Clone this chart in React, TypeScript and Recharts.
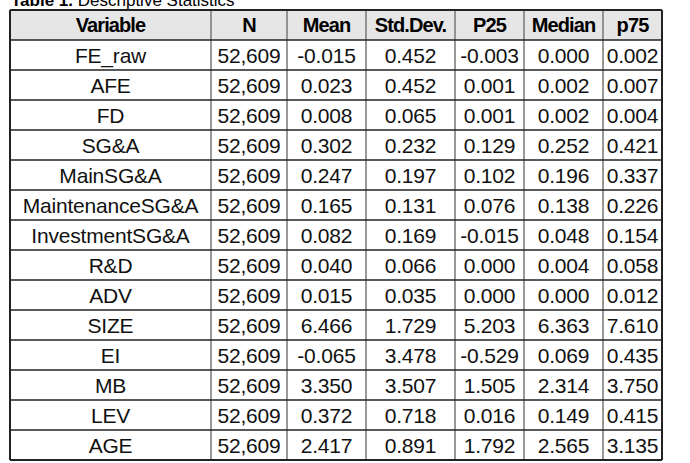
import React from 'react';
import { ScatterChart, Scatter, XAxis, YAxis, ReferenceLine, ReferenceArea } from 'recharts';

const columns = ['Variable', 'N', 'Mean', 'Std.Dev.', 'P25', 'Median', 'p75'];
const variables = ['FE_raw', 'AFE', 'FD', 'SG&A', 'MainSG&A', 'MaintenanceSG&A', 'InvestmentSG&A', 'R&D', 'ADV', 'SIZE', 'EI', 'MB', 'LEV', 'AGE'];
const nObs = [52609, 52609, 52609, 52609, 52609, 52609, 52609, 52609, 52609, 52609, 52609, 52609, 52609, 52609];
const means = [-0.015, 0.023, 0.008, 0.302, 0.247, 0.165, 0.082, 0.040, 0.015, 6.466, -0.065, 3.350, 0.372, 2.417];
const stdDevs = [0.452, 0.452, 0.065, 0.232, 0.197, 0.131, 0.169, 0.066, 0.035, 1.729, 3.478, 3.507, 0.718, 0.891];
const p25s = [-0.003, 0.001, 0.001, 0.129, 0.102, 0.076, -0.015, 0.000, 0.000, 5.203, -0.529, 1.505, 0.016, 1.792];
const medians = [0.000, 0.002, 0.002, 0.252, 0.196, 0.138, 0.048, 0.004, 0.000, 6.363, 0.069, 2.314, 0.149, 2.565];
const p75s = [0.002, 0.007, 0.004, 0.421, 0.337, 0.226, 0.154, 0.058, 0.012, 7.610, 0.435, 3.750, 0.415, 3.135];

// layout: column edges on the x scale (px units), rows are index units on y
const colEdges = [10, 211, 287, 366, 455, 524, 603, 662];
const W = 690;
const H = 463;
const FONT = '"Liberation Sans", Arial, sans-serif';

const cellText = [
  variables,
  nObs.map((v) => v.toLocaleString('en-US')),
  means.map((v) => v.toFixed(3)),
  stdDevs.map((v) => v.toFixed(3)),
  p25s.map((v) => v.toFixed(3)),
  medians.map((v) => v.toFixed(3)),
  p75s.map((v) => v.toFixed(3)),
];

const nRows = variables.length + 1;
const center = (c: number) => (colEdges[c] + colEdges[c + 1]) / 2;

const headerData = columns.map((label, c) => ({ x: center(c), y: 0.5, label }));
const bodyData = cellText.map((col, c) => col.map((label, r) => ({ x: center(c), y: r + 1.5, label })));

const HeaderCell = (props: any) => (
  <text x={props.cx} y={props.cy} textAnchor="middle" dominantBaseline="central" fontFamily={FONT} fontWeight="bold" fontSize={20} letterSpacing={-0.9} fill="#000">
    {props.payload.label}
  </text>
);

const BodyCell = (props: any) => (
  <text x={props.cx} y={props.cy} textAnchor="middle" dominantBaseline="central" fontFamily={FONT} fontSize={21} letterSpacing={-0.2} fill="#111">
    {props.payload.label}
  </text>
);

export default function App() {
  const rowLines = Array.from({ length: nRows + 1 }, (_, i) => i);
  return (
    <div style={{ position: 'absolute', left: 0, top: 0, width: W, height: H, background: '#fff', overflow: 'hidden' }}>
      <div style={{ position: 'absolute', left: 11, top: -9, fontFamily: FONT, fontSize: 17, color: '#000', whiteSpace: 'nowrap' }}>
        <b>Table 1.</b> Descriptive Statistics
      </div>
      <ScatterChart width={W} height={H} margin={{ top: 0, right: 0, bottom: 0, left: 0 }}>
        <XAxis type="number" dataKey="x" domain={[0, W]} hide />
        <YAxis type="number" dataKey="y" domain={[-10 / 30, (H - 10) / 30]} reversed hide />
        <ReferenceArea x1={colEdges[0]} x2={colEdges[colEdges.length - 1]} y1={0} y2={1} fill="#e6e6e6" fillOpacity={1} stroke="none" />
        {colEdges.map((e, i) => (
          <ReferenceLine
            key={'c' + i}
            segment={[{ x: e, y: 0 }, { x: e, y: nRows }]}
            stroke={i === 0 || i === colEdges.length - 1 ? '#222' : '#777'}
            strokeWidth={i === 0 || i === colEdges.length - 1 ? 2 : 1.5}
          />
        ))}
        {rowLines.map((r) => (
          <ReferenceLine
            key={'r' + r}
            segment={[{ x: colEdges[0], y: r }, { x: colEdges[colEdges.length - 1], y: r }]}
            stroke="#222"
            strokeWidth={r === 0 || r === nRows ? 2 : 1.5}
          />
        ))}
        <Scatter data={headerData} shape={HeaderCell} isAnimationActive={false} />
        {bodyData.map((d, c) => (
          <Scatter key={c} data={d} shape={BodyCell} isAnimationActive={false} />
        ))}
      </ScatterChart>
    </div>
  );
}
